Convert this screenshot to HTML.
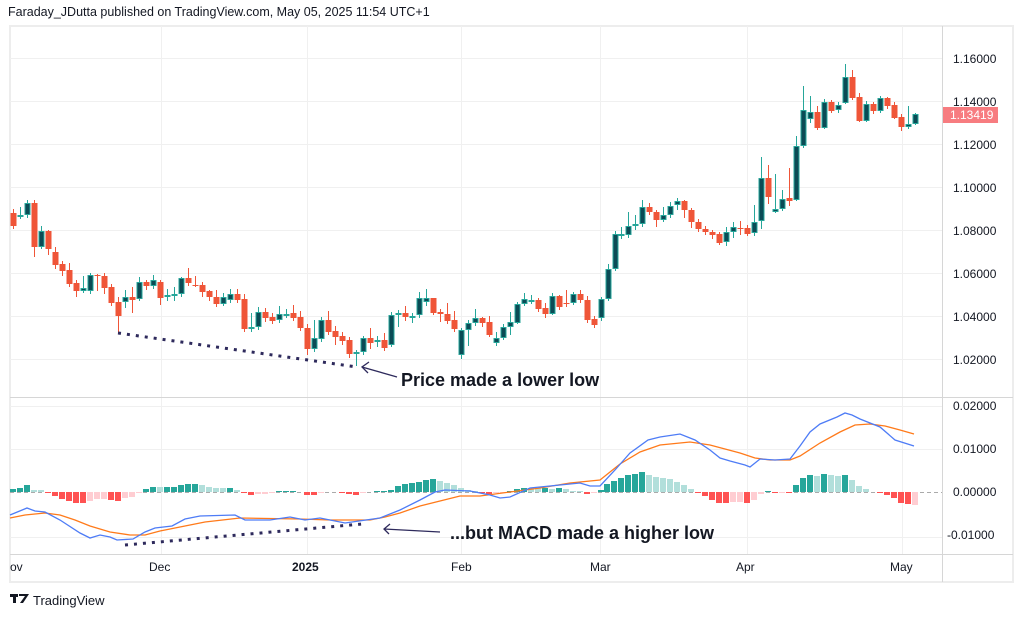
<!DOCTYPE html>
<html><head><meta charset="utf-8"><style>
html,body{margin:0;padding:0;background:#fff;width:1020px;height:617px;overflow:hidden}
body{font-family:"Liberation Sans",sans-serif;position:relative}
.t{position:absolute;white-space:nowrap;color:#131722}
</style></head><body>
<div class="t" style="left:8px;top:5px;font-size:12.5px">Faraday_JDutta published on TradingView.com, May 05, 2025 11:54 UTC+1</div>
<svg id="s" width="1020" height="617" style="position:absolute;left:0;top:0">
<rect x="10" y="26" width="1003" height="556" fill="none" stroke="#ededed" stroke-width="2"/>
<g id="grid" stroke="#f0f0f0" stroke-width="1"></g>
<line x1="942.5" y1="26" x2="942.5" y2="582" stroke="#d6d6d6"/>
<line x1="10" y1="397.5" x2="1013" y2="397.5" stroke="#d6d6d6"/>
<line x1="10" y1="554.5" x2="1013" y2="554.5" stroke="#d6d6d6"/>
<line x1="10" y1="492.5" x2="942" y2="492.5" stroke="#aaa" stroke-dasharray="4,3"/>
<g id="hist"></g><g id="cand"></g>
<polyline id="orange" fill="none" stroke="#ff7a1a" stroke-width="1.3"/>
<polyline id="blue" fill="none" stroke="#4e7cf6" stroke-width="1.3"/>
<line x1="118" y1="333" x2="357" y2="367" stroke="#2e2a5c" stroke-width="3" stroke-dasharray="3,6"/>
<line x1="125" y1="545" x2="362" y2="524" stroke="#2e2a5c" stroke-width="3" stroke-dasharray="3,6"/>
<line x1="397" y1="377" x2="362" y2="367" stroke="#2e2a5c" stroke-width="1.3"/>
<polyline points="369,362 362,367 368,373" fill="none" stroke="#2e2a5c" stroke-width="1.3"/>
<line x1="440" y1="532" x2="384" y2="529" stroke="#2e2a5c" stroke-width="1.3"/>
<polyline points="390,524 384,529 389,534" fill="none" stroke="#2e2a5c" stroke-width="1.3"/>
<rect x="943" y="107" width="55" height="16" fill="#f77c80"/>
<g font-family="Liberation Sans, sans-serif" font-size="12" fill="#131722">
<text x="953" y="63">1.16000</text><text x="953" y="106">1.14000</text><text x="953" y="149">1.12000</text>
<text x="953" y="192">1.10000</text><text x="953" y="235">1.08000</text><text x="953" y="278">1.06000</text>
<text x="953" y="321">1.04000</text><text x="953" y="364">1.02000</text>
<text x="950" y="119" fill="#fff">1.13419</text>
<text x="953" y="410">0.02000</text><text x="953" y="453">0.01000</text><text x="953" y="496">0.00000</text>
<text x="947" y="539">-0.01000</text>
<text x="10" y="571">ov</text><text x="149" y="571">Dec</text><text x="292" y="571" font-weight="bold">2025</text>
<text x="451" y="571">Feb</text><text x="590" y="571">Mar</text><text x="736" y="571">Apr</text><text x="890" y="571">May</text>
</g>
<g font-family="Liberation Sans, sans-serif" font-size="18" font-weight="bold" fill="#131722">
<text x="401" y="386">Price made a lower low</text>
<text x="450" y="539">...but MACD made a higher low</text>
</g>
<g fill="#131722"><rect x="10" y="594" width="8" height="3"/><rect x="13" y="594" width="3" height="9"/><path d="M19 594h10l-6 9h-3l5-7h-6z"/></g>
<text x="33" y="605" font-family="Liberation Sans, sans-serif" font-size="13" fill="#131722">TradingView</text>
</svg>
<script>
var NS="http://www.w3.org/2000/svg",S=function(p,t,a){var e=document.createElementNS(NS,t);for(var k in a)e.setAttribute(k,a[k]);p.appendChild(e);return e};
var g=document.getElementById('grid');
[58,101,144,187,230,273,316,359].forEach(function(y){S(g,'line',{x1:10,x2:942,y1:y+.5,y2:y+.5})});
[406,449,537].forEach(function(y){S(g,'line',{x1:10,x2:942,y1:y+.5,y2:y+.5})});
[161,307,461,600,747,902].forEach(function(x){S(g,'line',{x1:x+.5,x2:x+.5,y1:26,y2:554})});
var C=[[13,213,226,'r',209],[20,215,216,'g',207],[27,203,215,'g'],[34,203,247,'r',200,257],[41,231,247,'g',226,249],[48,231,249,'r',230,255],[55,252,265,'r',247,269],[62,264,271,'r',261,276],[69,270,284,'r',263],[76,283,291,'r',280,297],[83,288,291,'g',276,293],[90,275,291,'g',273],[97,275,276,'r',274,291],[104,276,288,'r',273,294],[111,287,303,'r'],[118,302,316,'r',297,333],[125,297,302,'g',290,308],[132,297,300,'r',287,313],[139,282,299,'g',277,301],[146,282,286,'r',280,290],[153,280,286,'g',275],[160,282,298,'r',280,305],[167,295,297,'g',289,301],[174,294,295,'g',287,301],[181,278,294,'g',277],[188,278,283,'r',268],[195,285,286,'r',276,287],[202,285,292,'r',282,297],[209,291,297,'r',290,301],[216,297,304,'r',290],[223,297,304,'g',293,306],[230,294,300,'g',289],[237,294,300,'r',289],[244,299,329,'r',294],[251,327,329,'g',313],[258,312,327,'g',307],[265,312,318,'r',308,322],[272,317,321,'r',313,324],[279,314,320,'g',306],[286,314,315,'g',309,318],[293,313,318,'r',305],[300,317,328,'r',311,331],[307,328,349,'r',324,355],[314,338,349,'g',320],[321,320,339,'g'],[328,320,332,'r',311],[335,331,337,'r',326,345],[342,336,341,'r',332,345],[349,340,354,'r',337,358],[356,352,354,'g',350,366],[363,338,352,'g',336],[370,338,343,'r',328,349],[377,340,342,'g',336,347],[384,340,348,'r',333],[391,315,345,'g',312,347],[398,313,315,'g',310,327],[405,313,317,'r',306,321],[412,316,317,'g',313,323],[419,298,315,'g',292],[426,298,302,'g',289,306],[433,298,313,'r',298,315],[440,312,314,'r',309,322],[447,314,321,'r',303,324],[454,320,329,'r',311],[461,330,355,'g',328,359],[468,323,330,'g',320,346],[475,318,323,'g',309,326],[482,318,323,'r',317,327],[489,322,335,'r',316,337],[496,338,343,'g',332,346],[503,327,338,'g',324,340],[510,322,327,'g',312,335],[517,304,323,'g',302,324],[524,299,304,'g',293,306],[531,300,301,'g',295,304],[538,300,309,'r',298],[545,308,314,'r',303,318],[552,296,314,'g',293,315],[559,296,307,'r',295],[566,303,304,'r',290,307],[573,294,303,'g',292,305],[580,294,300,'r',290],[587,300,320,'r',296],[594,319,325,'r',316,328],[601,299,318,'g',297,321],[608,269,299,'g',264,301],[615,234,269,'g',231,271],[621,234,235,'g',227,239],[628,226,235,'g',212],[635,224,225,'g',215,230],[642,207,224,'g',200],[649,207,212,'r',203,215],[656,212,220,'r',210,227],[663,215,220,'g',207,222],[670,206,215,'g',202],[677,201,205,'g',198,210],[684,201,210,'r',200,218],[691,210,222,'r',208,228],[698,222,229,'r',219,232],[705,229,232,'r',226,235],[712,232,235,'r',230,239],[719,234,243,'r',232,245],[726,232,242,'g',227,246],[733,227,232,'g',222,238],[740,228,229,'r',221,235],[747,228,234,'r',225,236],[754,222,233,'g',205,236],[761,178,221,'g',157,229],[768,178,197,'r',165,204],[775,209,212,'g',174,213],[782,199,209,'g',190,211],[789,198,201,'r',168,206],[796,146,200,'g',136,201],[803,110,146,'g',86,148],[810,112,119,'g',96,123],[817,112,128,'r',106,130],[824,102,128,'g',99,129],[831,102,111,'r',100,113],[838,105,110,'g',102,113],[845,77,103,'g',64,104],[852,77,98,'r',70,100],[859,97,121,'r',93,122],[866,104,121,'g',101,122],[873,104,111,'r',102,114],[880,98,111,'g',96,113],[887,98,106,'r',97,109],[894,105,118,'r',102,119],[901,117,127,'r',114,131],[908,124,127,'g',106,129],[915,114,124,'g',113,125]];
var cg=document.getElementById('cand');
C.forEach(function(c){var x=c[0],t=c[1],b=Math.max(c[2],c[1]+1),col=c[3]=='g'?'#26a69a':'#ef5538';
var wt=c[4]||t-3,wb=c[5]||b+3;S(cg,'line',{x1:x+.5,x2:x+.5,y1:wt,y2:wb,stroke:col,'stroke-width':1});
if(c[3]=='g')S(cg,'rect',{x:x-2,y:t+.5,width:5,height:Math.max(b-t-1,1),fill:'#0b4b55',stroke:col,'stroke-width':1});
else S(cg,'rect',{x:x-2.5,y:t,width:6,height:b-t,fill:col});});
var H=[[13,3,'g'],[20,4,'g'],[27,7,'g'],[34,2,'l'],[41,2,'l'],[48,-1,'r'],[55,-4,'r'],[62,-7,'r'],[69,-9,'r'],[76,-11,'r'],[83,-11,'r'],[90,-9,'p'],[97,-7,'p'],[104,-7,'p'],[111,-8,'r'],[118,-9,'r'],[125,-6,'p'],[132,-5,'p'],[139,-1,'p'],[146,3,'g'],[153,5,'g'],[160,5,'l'],[167,5,'g'],[174,5,'g'],[181,7,'g'],[188,8,'g'],[195,8,'g'],[202,7,'l'],[209,5,'l'],[216,4,'l'],[223,4,'l'],[230,4,'g'],[237,2,'l'],[244,-1,'r'],[251,-3,'r'],[258,-2,'p'],[265,-2,'p'],[272,-1,'p'],[279,1,'g'],[286,1,'g'],[293,1,'g'],[307,-3,'r'],[314,-3,'r'],[321,-1,'p'],[342,-1,'r'],[349,-2,'r'],[356,-3,'r'],[363,-1,'p'],[377,1,'g'],[384,1,'g'],[391,2,'g'],[398,6,'g'],[405,8,'g'],[412,9,'g'],[419,10,'g'],[426,12,'g'],[433,13,'g'],[440,11,'l'],[447,9,'l'],[454,7,'l'],[461,4,'l'],[468,2,'l'],[475,1,'l'],[482,-1,'r'],[489,-2,'r'],[496,-1,'p'],[503,-1,'p'],[510,1,'g'],[517,3,'g'],[524,4,'g'],[531,4,'l'],[538,4,'l'],[545,4,'g'],[552,3,'l'],[559,4,'g'],[566,3,'l'],[573,1,'l'],[580,1,'l'],[587,-2,'r'],[594,-1,'p'],[601,2,'g'],[607,8,'g'],[614,11,'g'],[621,14,'g'],[628,17,'g'],[635,18,'g'],[642,20,'g'],[649,17,'l'],[656,15,'l'],[663,14,'l'],[670,13,'l'],[677,10,'l'],[684,7,'l'],[691,3,'l'],[698,-1,'r'],[705,-4,'r'],[712,-8,'r'],[719,-11,'r'],[726,-11,'r'],[733,-10,'p'],[740,-10,'p'],[747,-11,'r'],[754,-8,'p'],[761,-2,'p'],[768,1,'g'],[775,-1,'r'],[782,-1,'p'],[789,-1,'r'],[796,7,'g'],[803,14,'g'],[810,17,'g'],[817,16,'l'],[824,18,'g'],[831,17,'l'],[838,16,'l'],[845,17,'g'],[852,12,'l'],[859,6,'l'],[866,3,'l'],[880,-1,'r'],[887,-3,'r'],[894,-6,'r'],[901,-11,'r'],[908,-12,'r'],[915,-13,'p']];
var cols={g:'#26a69a',l:'#b2dfdb',r:'#ff5252',p:'#ffcdd2'},hg=document.getElementById('hist');
H.forEach(function(h){var v=h[1];S(hg,'rect',{x:h[0]-3,y:v>0?492-v:492,width:6,height:Math.abs(v),fill:cols[h[2]]})});
document.getElementById('blue').setAttribute('points',"10,515 27,508 35,511 45,512 60,520 80,533 90,538 100,535 110,537 117,540 133,539 145,532 155,528 172,526 185,519 200,516 235,515 245,520 270,520 290,517 305,520 320,518 345,523 380,518 400,510 420,500 435,492 445,490 470,491 490,495 500,498 510,497 530,488 560,485 580,483 590,486 600,486 615,470 630,453 648,440 660,437 680,434 695,440 710,450 720,458 730,461 745,465 750,467 760,459 775,460 790,459 800,446 810,432 820,424 837,417 845,413 852,415 860,419 880,427 895,440 914,446");
document.getElementById('orange').setAttribute('points',"10,518 25,515 45,513 60,515 75,520 90,526 110,532 130,535 145,535 160,531 185,526 205,522 240,518 300,519 330,520 370,520 385,517 400,513 420,506 440,501 460,496 480,496 510,492 540,488 570,483 600,480 620,464 640,452 660,445 690,442 710,445 740,453 755,458 770,460 790,460 800,456 820,443 840,432 855,425 870,424 885,426 900,430 914,434");
</script>
</body></html>
